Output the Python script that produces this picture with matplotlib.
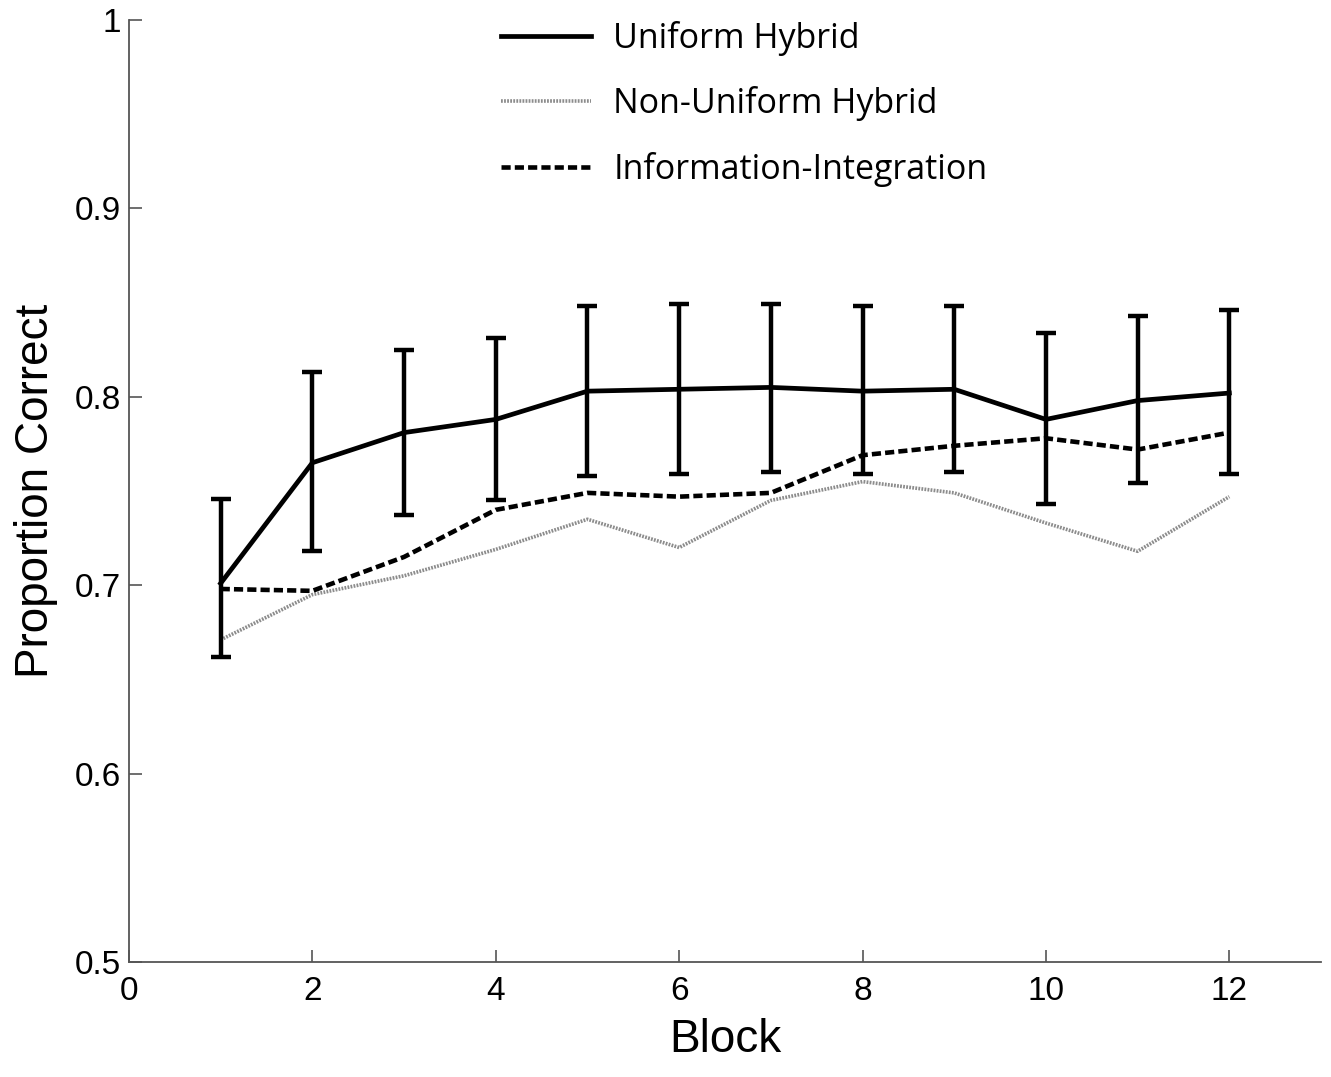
import matplotlib
matplotlib.use("Agg")
import matplotlib.pyplot as plt

blocks = [1, 2, 3, 4, 5, 6, 7, 8, 9, 10, 11, 12]
uniform = [0.701, 0.765, 0.781, 0.788, 0.803, 0.804, 0.805, 0.803, 0.804, 0.788, 0.798, 0.802]
uniform_hi = [0.746, 0.813, 0.825, 0.831, 0.848, 0.849, 0.849, 0.848, 0.848, 0.834, 0.843, 0.846]
uniform_lo = [0.662, 0.718, 0.737, 0.745, 0.758, 0.759, 0.760, 0.759, 0.760, 0.743, 0.754, 0.759]
nonuniform = [0.671, 0.695, 0.705, 0.719, 0.735, 0.720, 0.745, 0.755, 0.749, 0.733, 0.718, 0.747]
infoint = [0.698, 0.697, 0.715, 0.740, 0.749, 0.747, 0.749, 0.769, 0.774, 0.778, 0.772, 0.781]
labels = ["Uniform Hybrid", "Non-Uniform Hybrid", "Information-Integration"]
xticks = [0, 2, 4, 6, 8, 10, 12]
yticks = [0.5, 0.6, 0.7, 0.8, 0.9, 1.0]
yticklabels = ["0.5", "0.6", "0.7", "0.8", "0.9", "1"]

fig = plt.figure(figsize=(13.31, 10.77), dpi=100)
ax = fig.add_axes([0.0969, 0.1068, 0.8956, 0.8746])

lo_err = [u - l for u, l in zip(uniform, uniform_lo)]
hi_err = [h - u for u, h in zip(uniform, uniform_hi)]

l2, = ax.plot(blocks, nonuniform, color="#8c8c8c", lw=2.6, linestyle=(0, (0.5, 0.35)), zorder=2)
l3, = ax.plot(blocks, infoint, color="black", lw=3.3, linestyle=(0, (2.0, 0.9)), zorder=3)
ax.errorbar(blocks, uniform, yerr=[lo_err, hi_err], fmt="none", ecolor="black",
            elinewidth=3.2, capsize=7.5, capthick=3.2, zorder=4)
l1, = ax.plot(blocks, uniform, color="black", lw=3.4, zorder=5)

ax.set_xlim(0, 13)
ax.set_ylim(0.5, 1.0)
ax.set_xticks(xticks)
ax.set_xticklabels([str(t) for t in xticks], fontsize=24, family="Liberation Sans")
ax.set_yticks(yticks)
ax.set_yticklabels(yticklabels, fontsize=24, family="Liberation Sans")
ax.tick_params(direction="in", length=9, width=1.2, color="#555555", pad=6)
ax.tick_params(axis="x", pad=10)
for s in ["top", "right"]:
    ax.spines[s].set_visible(False)
for s in ["left", "bottom"]:
    ax.spines[s].set_color("#555555")
    ax.spines[s].set_linewidth(1.3)

ax.set_xlabel("Block", fontsize=33, family="Liberation Sans", labelpad=8)
ax.set_ylabel("Proportion Correct", fontsize=33, family="Liberation Sans", labelpad=12)

leg = ax.legend([l1, l2, l3], labels, loc="upper left", bbox_to_anchor=(0.286, 1.032),
                frameon=False, prop={"family": "Open Sans", "size": 24.5},
                handlelength=2.67, handletextpad=0.65, labelspacing=0.9)

fig.savefig("out.png", dpi=100)
